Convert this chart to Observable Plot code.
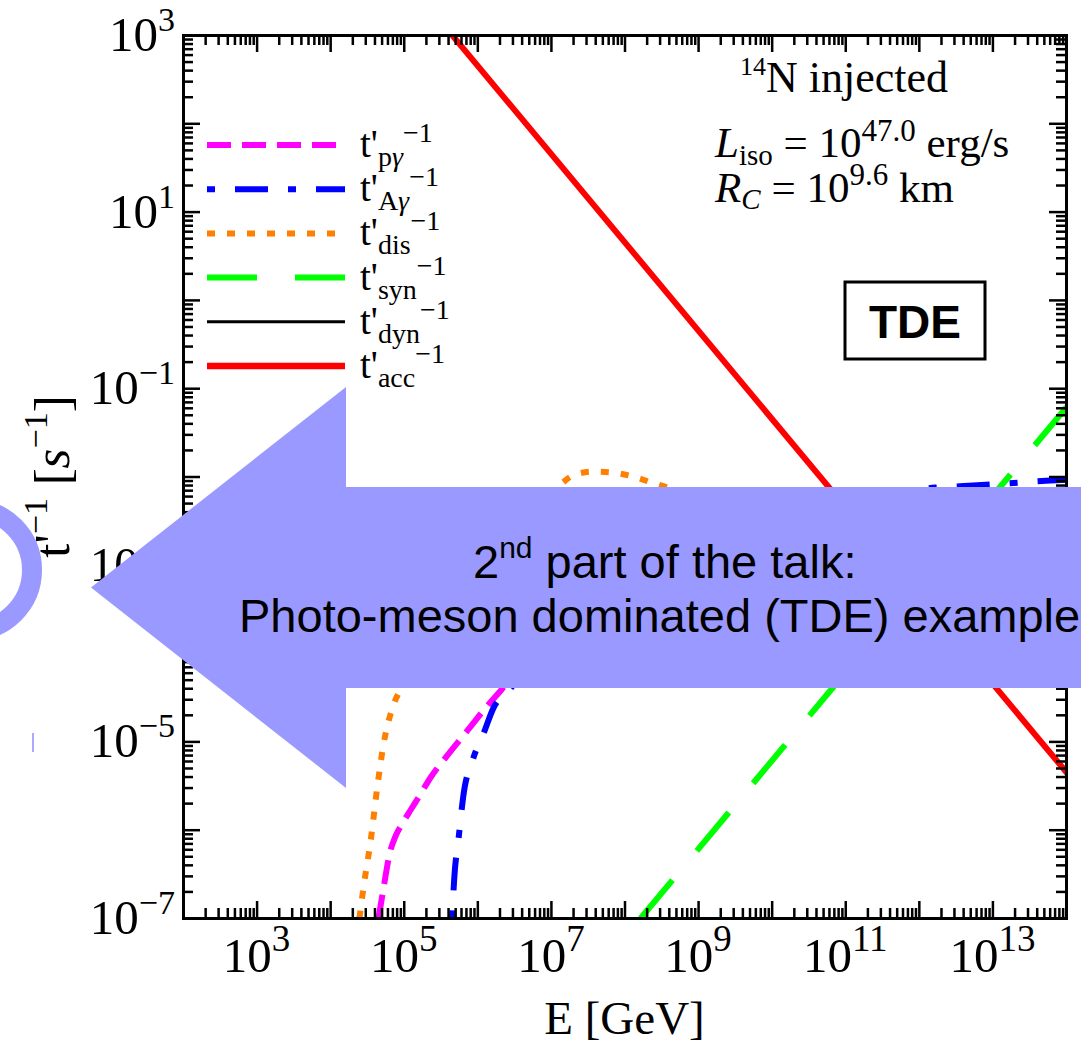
<!DOCTYPE html>
<html>
<head>
<meta charset="utf-8">
<script src="https://cdn.jsdelivr.net/npm/d3@7"></script>
<script src="https://cdn.jsdelivr.net/npm/@observablehq/plot@0.6"></script>
<style>
html,body{margin:0;padding:0;background:#fff;}
svg text{white-space:pre;}
</style>
</head>
<body>
<div id="chart"></div>
<script>
// ---------- data: log10(E / GeV) and log10(t'^-1 / s^-1) ----------
const pgLogE  = [4.65, 4.72, 4.80, 4.88, 4.97, 5.08, 5.20, 5.36, 5.56, 5.86, 6.13, 6.31, 6.8, 7.5, 8.5, 9.5, 10.5, 11.5, 12.5, 13.5, 14.0];
const pgLogT  = [-7.0, -6.65, -6.27, -6.07, -5.93, -5.78, -5.62, -5.40, -5.18, -4.87, -4.59, -4.42, -3.9, -3.4, -3.0, -2.8, -2.7, -2.6, -2.55, -2.5, -2.5];

const agLogE  = [5.65, 5.68, 5.74, 5.80, 5.94, 6.08, 6.21, 6.44, 7.0, 8.0, 9.0, 10.0, 11.0, 11.8, 12.22, 12.67, 13.06, 13.78, 14.0];
const agLogT  = [-7.0, -6.54, -6.08, -5.63, -5.18, -4.90, -4.62, -4.40, -3.7, -3.0, -2.6, -2.4, -2.25, -2.16, -2.12, -2.10, -2.08, -2.04, -2.03];

const disLogE = [4.39, 4.46, 4.54, 4.64, 4.72, 4.85, 4.95, 5.3, 5.8, 6.4, 7.10, 7.30, 7.56, 7.83, 8.09, 8.35, 8.58, 9.0, 9.6, 10.3, 11.0, 12.0, 13.0, 14.0];
const disLogT = [-7.0, -6.57, -6.14, -5.47, -5.02, -4.59, -4.40, -3.8, -3.2, -2.65, -2.10, -1.98, -1.94, -1.95, -1.99, -2.06, -2.12, -2.3, -2.6, -2.9, -3.2, -3.6, -3.9, -4.2];

const synLogE = [8.21, 14.0];
const synLogT = [-7.0, -1.21];

const accLogE = [5.5, 14.2];
const accLogT = [3.155, -5.545];

// axis tick labels (exponents)
const xLabelExps = [3, 5, 7, 9, 11, 13];
const yLabelExps = [3, 1, -1, -3, -5, -7];

// legend
const legendSubs   = ["pγ", "Aγ", "dis", "syn", "dyn", "acc"];
const legendColors = ["#ff00ff", "#0000ff", "#ff8000", "#00ff00", "#000000", "#ff0000"];
const legendDashes = ["24,11", "8,20,33,20", "8,12", "50,38", null, null];
const legendWidths = [6, 6, 6, 6, 3, 6.5];

// ---------- layout ----------
const W = 1081, H = 1044;
const mL = 183, mR = 15, mT = 35, mB = 126;
const plotW = W - mL - mR, plotH = H - mT - mB;
const SERIF = "'Liberation Serif','Times New Roman',serif";
const SANS = "'Liberation Sans',Arial,sans-serif";

const rows = (le, lt) => le.map((e, i) => ({E: Math.pow(10, e), t: Math.pow(10, lt[i])}));

const series = [
  {data: rows(disLogE, disLogT), color: legendColors[2], dash: legendDashes[2]},
  {data: rows(pgLogE, pgLogT),   color: legendColors[0], dash: legendDashes[0]},
  {data: rows(agLogE, agLogT),   color: legendColors[1], dash: legendDashes[1]},
  {data: rows(synLogE, synLogT), color: legendColors[3], dash: legendDashes[3]},
  {data: rows(accLogE, accLogT), color: legendColors[5], dash: null}
];

const xMajor = d3.range(2, 15).map(k => Math.pow(10, k));
const xMinor = d3.range(2, 14).flatMap(k => d3.range(2, 10).map(m => m * Math.pow(10, k)));
const yMajor = d3.range(-7, 4).map(k => Math.pow(10, k));
const yMinor = d3.range(-7, 3).flatMap(k => d3.range(2, 10).map(m => m * Math.pow(10, k)));

const MAJ = 17, MIN = 10, TW = 2.5;

const chart = Plot.plot({
  width: W, height: H,
  marginLeft: mL, marginRight: mR, marginTop: mT, marginBottom: mB,
  x: {type: "log", domain: [1e2, 1e14], axis: null},
  y: {type: "log", domain: [1e-7, 1e3], axis: null},
  style: {background: "white"},
  marks: [
    ...series.map(s => Plot.line(s.data, {
      x: "E", y: "t", stroke: s.color, strokeWidth: 6,
      strokeDasharray: s.dash || undefined, strokeLinecap: "butt", strokeLinejoin: "round",
      curve: "monotone-x", clip: true
    })),
    Plot.tickX(xMajor, {x: d => d, insetTop: plotH - MAJ, stroke: "black", strokeWidth: TW}),
    Plot.tickX(xMajor, {x: d => d, insetBottom: plotH - MAJ, stroke: "black", strokeWidth: TW}),
    Plot.tickX(xMinor, {x: d => d, insetTop: plotH - MIN, stroke: "black", strokeWidth: TW}),
    Plot.tickX(xMinor, {x: d => d, insetBottom: plotH - MIN, stroke: "black", strokeWidth: TW}),
    Plot.tickY(yMajor, {y: d => d, insetRight: plotW - MAJ, stroke: "black", strokeWidth: TW}),
    Plot.tickY(yMajor, {y: d => d, insetLeft: plotW - MAJ, stroke: "black", strokeWidth: TW}),
    Plot.tickY(yMinor, {y: d => d, insetRight: plotW - MIN, stroke: "black", strokeWidth: TW}),
    Plot.tickY(yMinor, {y: d => d, insetLeft: plotW - MIN, stroke: "black", strokeWidth: TW}),
    Plot.frame({stroke: "black", strokeWidth: 3})
  ]
});
document.getElementById("chart").appendChild(chart);

const svg = d3.select(chart);
const sx = chart.scale("x"), sy = chart.scale("y");

// rich text helper: parts = [[string, kind]] kind may contain sup / sub / it
function richText(g, x, y, parts, o) {
  const t = g.append("text").attr("x", x).attr("y", y)
    .attr("font-family", o.family || SERIF).attr("font-size", o.size)
    .attr("text-anchor", o.anchor || "start").attr("fill", "black");
  if (o.weight) t.attr("font-weight", o.weight);
  if (o.transform) t.attr("transform", o.transform);
  let cur = 0;
  for (const [s, k] of parts) {
    const sp = t.append("tspan").text(s);
    let off = 0;
    if (k.includes("sup")) { off = -o.supShift; sp.attr("font-size", o.supSize); }
    else if (k.includes("sub")) { off = o.subShift; sp.attr("font-size", o.subSize); }
    if (k.includes("it")) sp.attr("font-style", "italic");
    if (off - cur !== 0) sp.attr("dy", off - cur);
    cur = off;
  }
  return t;
}

const txt = svg.append("g");

// x tick labels
xLabelExps.forEach(e => {
  richText(txt, sx.apply(Math.pow(10, e)), mT + plotH + 54, [["10", ""], [String(e), "sup"]],
    {size: 49, supSize: 37, supShift: 21, anchor: "middle"});
});
// y tick labels
yLabelExps.forEach(e => {
  const lab = e < 0 ? "−" + (-e) : String(e);
  richText(txt, mL - 8, sy.apply(Math.pow(10, e)) + 16, [["10", ""], [lab, "sup"]],
    {size: 49, supSize: 34, supShift: 20, anchor: "end"});
});
// axis titles
richText(txt, mL + plotW / 2, 1034, [["E [GeV]", ""]], {size: 47, anchor: "middle"});
richText(txt, 0, 0, [["t'", ""], ["−1", "sup"], [" [", ""], ["s", "it"], ["−1", "sup"], ["]", ""]],
  {size: 51, supSize: 34, supShift: 22, anchor: "middle", transform: `translate(69,${mT + plotH / 2}) rotate(-90)`});

// legend
const leg = svg.append("g");
legendSubs.forEach((name, i) => {
  const yy = 145 + i * 44.2;
  const ln = leg.append("line").attr("x1", 207).attr("x2", 345).attr("y1", yy).attr("y2", yy)
    .attr("stroke", legendColors[i]).attr("stroke-width", legendWidths[i]);
  if (legendDashes[i]) ln.attr("stroke-dasharray", legendDashes[i]);
  const subParts = name.endsWith("γ") ? [[name.slice(0, -1), "sub"], ["γ", "sub it"]] : [[name, "sub"]];
  richText(leg, 360, yy + 12, [["t'", ""], ...subParts, ["−1", "sup"]],
    {size: 39, subSize: 28, subShift: 9, supSize: 28, supShift: 15});
});

// annotations
const ann = svg.append("g");
richText(ann, 740, 92, [["14", "sup"], ["N injected", ""]], {size: 44, supSize: 26, supShift: 17});
richText(ann, 715, 157, [["L", "it"], ["iso", "sub"], [" = 10", ""], ["47.0", "sup"], [" erg/s", ""]],
  {size: 43, subSize: 29, subShift: 8, supSize: 31, supShift: 16});
richText(ann, 715, 202, [["R", "it"], ["C", "sub it"], [" = 10", ""], ["9.6", "sup"], [" km", ""]],
  {size: 43, subSize: 29, subShift: 7, supSize: 31, supShift: 17});
ann.append("rect").attr("x", 845).attr("y", 282).attr("width", 140).attr("height", 77)
  .attr("fill", "white").attr("stroke", "black").attr("stroke-width", 3);
richText(ann, 915, 338, [["TDE", ""]], {size: 46, family: SANS, weight: "bold", anchor: "middle"});

// slide overlay: arrow + ring
const ov = svg.append("g");
ov.append("circle").attr("cx", -29).attr("cy", 570).attr("r", 61)
  .attr("fill", "none").attr("stroke", "#9999ff").attr("stroke-width", 20);
ov.append("rect").attr("x", 32).attr("y", 733).attr("width", 2).attr("height", 19).attr("fill", "#aaaaff");
ov.append("polygon")
  .attr("points", "91,587.5 346,387 346,487 1081,487 1081,688 346,688 346,788")
  .attr("fill", "#9999ff");
richText(ov, 473, 578, [["2", ""], ["nd", "sup"], [" part of the talk:", ""]],
  {size: 47, family: SANS, supSize: 30, supShift: 20});
richText(ov, 239, 632, [["Photo-meson dominated (TDE) example", ""]], {size: 47, family: SANS});
</script>
</body>
</html>
